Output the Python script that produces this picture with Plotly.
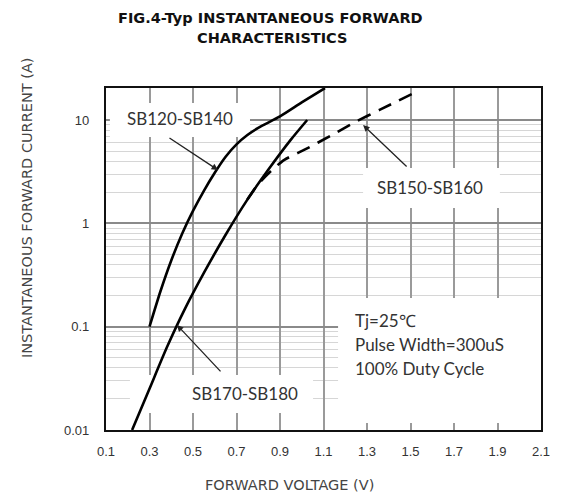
import math
import plotly.graph_objects as go

# SB120-SB140 (solid)
v_a = [0.30, 0.35, 0.40, 0.45, 0.50, 0.55, 0.60, 0.65, 0.70, 0.75, 0.80, 0.90, 1.00, 1.107]
i_a = [0.10, 0.219, 0.437, 0.794, 1.318, 2.065, 3.09, 4.42, 5.82, 7.16, 8.41, 10.84, 14.8, 20.4]

# SB170-SB180 (solid)
v_b = [0.22, 0.30, 0.38, 0.46, 0.55, 0.65, 0.75, 0.85, 0.95, 1.025]
i_b = [0.010, 0.0251, 0.0631, 0.1445, 0.331, 0.776, 1.698, 3.39, 6.46, 10.0]

# SB150-SB160 (dashed)
v_c = [0.75, 0.80, 0.86, 0.92, 1.02, 1.13, 1.245, 1.36, 1.51]
i_c = [1.70, 2.40, 3.24, 4.12, 5.25, 7.0, 9.55, 12.6, 18.0]

x_ticks = [0.1, 0.3, 0.5, 0.7, 0.9, 1.1, 1.3, 1.5, 1.7, 1.9, 2.1]
y_ticks = [0.01, 0.1, 1, 10]
y_text = ["0.01", "0.1", "1", "10"]

fig = go.Figure()
fig.add_trace(go.Scatter(x=v_a, y=i_a, mode="lines",
                         line=dict(color="black", width=2.6, shape="spline", smoothing=0.6)))
fig.add_trace(go.Scatter(x=v_b, y=i_b, mode="lines",
                         line=dict(color="black", width=2.6, shape="spline", smoothing=0.6)))
fig.add_trace(go.Scatter(x=v_c, y=i_c, mode="lines",
                         line=dict(color="black", width=2.6, dash="14px,9px", shape="spline", smoothing=0.6)))

# white label boxes over grid
boxes = [
    (0.118, 0.762, 6.86, 14.6),
    (1.282, 1.911, 1.41, 3.44),
    (0.21, 1.052, 0.0146, 0.034),
    (1.167, 2.1, 0.0117, 0.189),
]
for x0, x1, y0, y1 in boxes:
    fig.add_shape(type="rect", xref="x", yref="y", x0=x0, x1=x1, y0=y0, y1=y1,
                  fillcolor="white", line=dict(width=0), layer="between")

lab_font = dict(family="Lato, Open Sans, sans-serif", size=17, color="#333")
labels = [("SB120-SB140", 0.44, 10.45), ("SB150-SB160", 1.59, 2.2), ("SB170-SB180", 0.739, 0.0228)]
for txt, x, y in labels:
    fig.add_annotation(x=x, y=math.log10(y), text=txt, showarrow=False, font=lab_font)

arrows = [
    (0.615, 3.28, 0.385, 6.86),
    (1.282, 8.95, 1.489, 3.44),
    (0.426, 0.104, 0.633, 0.0357),
]
for x, y, ax, ay in arrows:
    fig.add_annotation(x=x, y=math.log10(y), ax=ax, ay=math.log10(ay), xref="x", yref="y",
                       axref="x", ayref="y", text="", showarrow=True, arrowhead=2,
                       arrowsize=1, arrowwidth=1.3, arrowcolor="#222")

for txt, yy in [("Tj=25℃", 0.116), ("Pulse Width=300uS", 0.0665), ("100% Duty Cycle", 0.0398)]:
    fig.add_annotation(x=1.236, y=math.log10(yy), text=txt, showarrow=False, xanchor="left",
                       font=lab_font)

tfont = dict(family="DejaVu Sans, sans-serif", size=14.5, color="#111")
fig.add_annotation(xref="paper", yref="paper", x=(270 - 106) / 435, y=(430 - 18) / 342,
                   yanchor="middle", xanchor="center",
                   text="<b>FIG.4-Typ INSTANTANEOUS FORWARD</b>", showarrow=False, font=tfont)
fig.add_annotation(xref="paper", yref="paper", x=(272 - 106) / 435, y=(430 - 38) / 342,
                   yanchor="middle", xanchor="center",
                   text="<b>CHARACTERISTICS</b>", showarrow=False, font=tfont)

afont = dict(family="DejaVu Sans, sans-serif", size=14.5, color="#444")
fig.add_annotation(xref="paper", yref="paper", x=(289 - 106) / 435, y=(430 - 485) / 342,
                   yanchor="middle", xanchor="center", text="FORWARD VOLTAGE (V)",
                   showarrow=False, font=afont)
fig.add_annotation(xref="paper", yref="paper", x=(27 - 106) / 435, y=(430 - 208) / 342,
                   yanchor="middle", xanchor="center", textangle=-90,
                   text="INSTANTANEOUS FORWARD CURRENT (A)", showarrow=False, font=afont)

fig.update_layout(
    width=555, height=487,
    margin=dict(l=98, r=22, t=80, b=65),
    paper_bgcolor="white", plot_bgcolor="white",
    showlegend=False,
    xaxis=dict(range=[0.1, 2.1], tickvals=x_ticks, ticktext=[f"{v:.1f}" for v in x_ticks],
               automargin=False,
               showgrid=True, gridcolor="#9a9a9a", gridwidth=1.6, zeroline=False,
               showline=True, mirror=True, linecolor="#111", linewidth=2.2, ticks="",
               ticklabelstandoff=8,
               tickfont=dict(family="Liberation Sans, Arial, sans-serif", size=13, color="#333")),
    yaxis=dict(type="log", range=[-2, 1.31], tickvals=y_ticks, ticktext=y_text,
               automargin=False,
               showgrid=True, gridcolor="#8a8a8a", gridwidth=1.6, zeroline=False,
               showline=True, mirror=True, linecolor="#111", linewidth=2.2, ticks="",
               ticklabelstandoff=12,
               minor=dict(showgrid=True, dtick="D1", gridcolor="#d6d6d6", gridwidth=1.2),
               tickfont=dict(family="Liberation Sans, Arial, sans-serif", size=13, color="#333")),
)

fig.write_html("out.html")
